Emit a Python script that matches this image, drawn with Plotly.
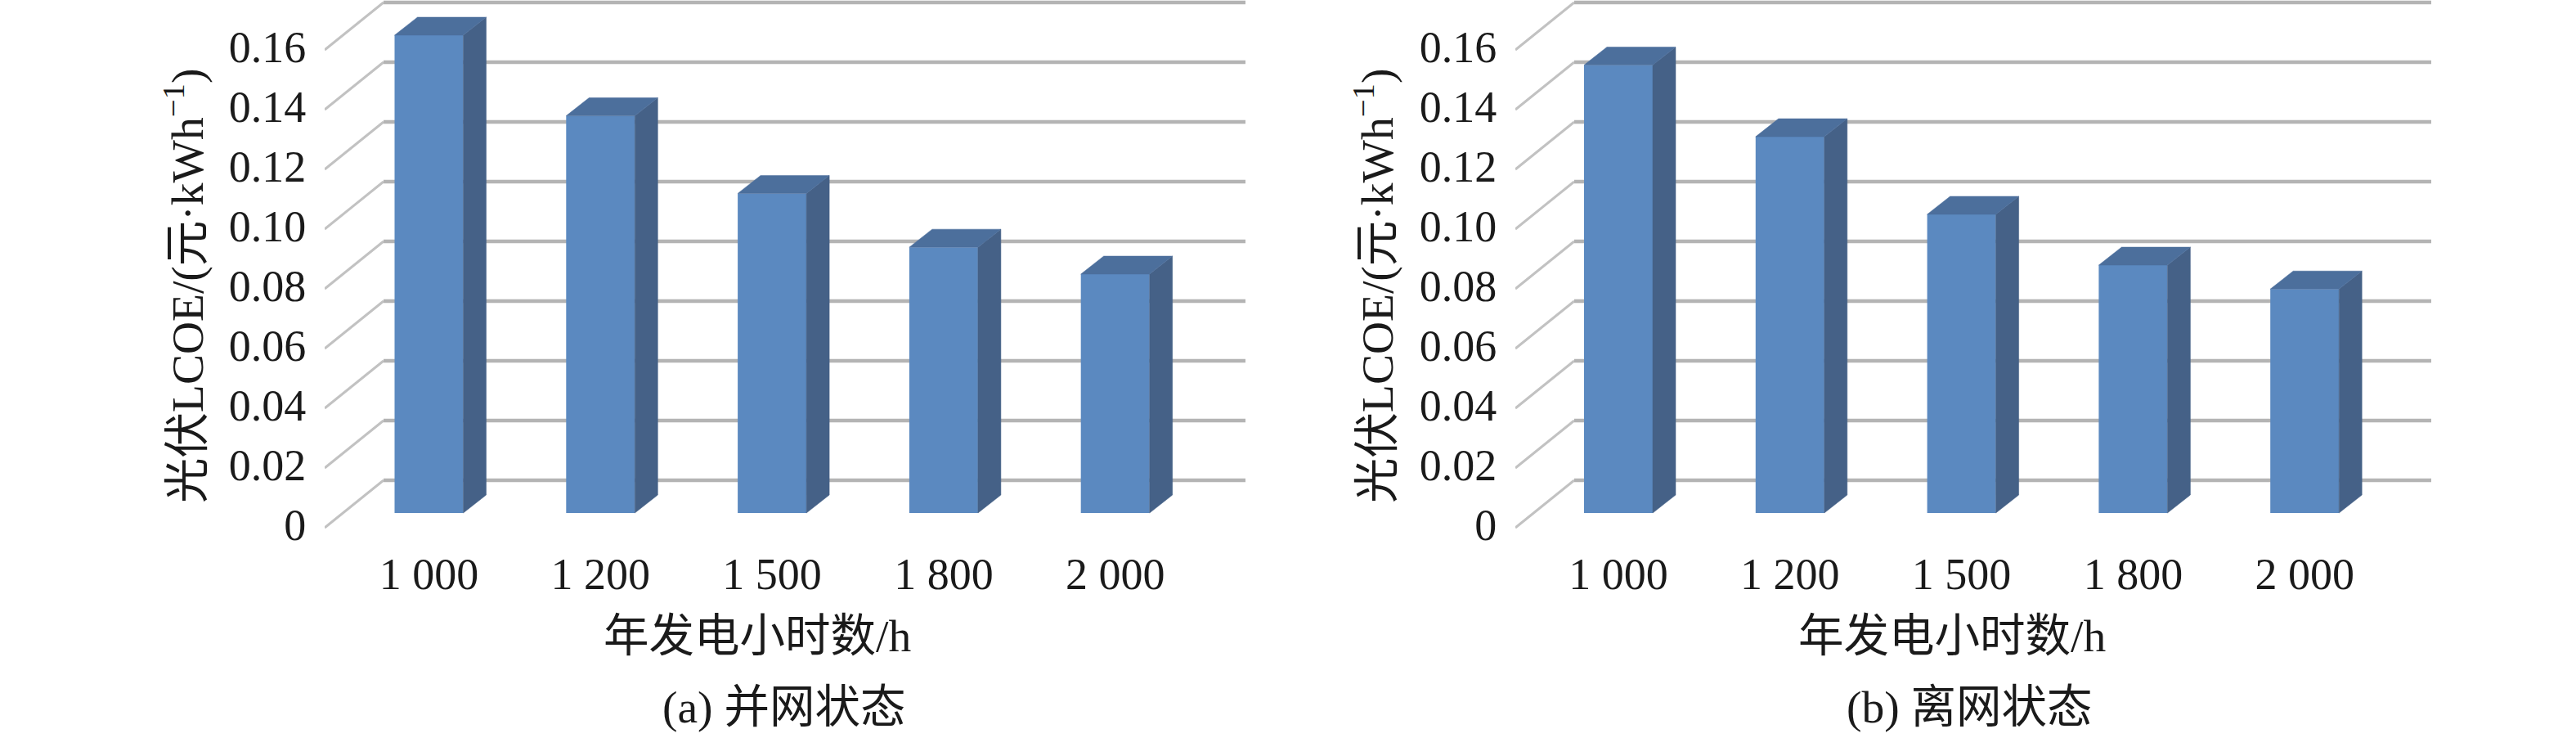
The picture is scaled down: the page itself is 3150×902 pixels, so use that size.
import plotly.graph_objects as go

categories = ["1 000", "1 200", "1 500", "1 800", "2 000"]
lcoe_grid = [0.160, 0.133, 0.107, 0.089, 0.080]
lcoe_off = [0.150, 0.126, 0.100, 0.083, 0.075]
tick_values = [0, 0.02, 0.04, 0.06, 0.08, 0.10, 0.12, 0.14, 0.16]
tick_labels = ["0", "0.02", "0.04", "0.06", "0.08", "0.10", "0.12", "0.14", "0.16"]
captions = ["(a) 并网状态", "(b) 离网状态"]
y_title = "光伏LCOE/(元·kWh<sup>−1</sup>)"
x_title = "年发电小时数/h"

W, H = 3150, 902
FONT = "Liberation Serif, Noto Sans CJK SC"
INK = "#1a1a1a"
FRONT, SIDE, TOP = "#5b89c0", "#456187", "#4c6f9c"
GRID, DIAG = "#b4b4b4", "#c2c2c2"

# pixel scales of the drawing
PX_X = 209.8            # px per category
PX_Y = 3650.0           # px per LCOE unit
BASE_Y = 627.0          # px of value 0 on the bar front
BAR_W = 84 / PX_X       # front face width
DEPTH_X = 28 / PX_X     # oblique depth of bars
DEPTH_Y = 22 / PX_Y
TICK_SHIFT = -18 / PX_Y  # wall front edge is below the bar base
LABEL_LIFT = 3.5 / PX_Y  # tick labels sit slightly above the wall edge
WALL_DX = 72 / PX_X
WALL_DY = 58 / PX_Y

panels = [
    dict(values=lcoe_grid, first_x=524.5, caption=captions[0], left=397, right=1523,
         wall=("x", "y"), bars=("x3", "y3"), ytitle_x=225, xtitle_x=926, cap_x=958),
    dict(values=lcoe_off, first_x=1979, caption=captions[1], left=1853, right=2973,
         wall=("x2", "y2"), bars=("x4", "y4"), ytitle_x=1680, xtitle_x=2387, cap_x=2408),
]


def axis_key(name, letter):
    return letter + "axis" + name[1:]


fig = go.Figure()
layout = {}
for p in panels:
    xa, ya = p["wall"]
    xb, yb = p["bars"]
    x0 = (p["left"] - p["first_x"]) / PX_X
    x1 = (p["right"] - p["first_x"]) / PX_X
    top_px, bot_px = 0, 652
    y0 = (BASE_Y - bot_px) / PX_Y
    y1 = (BASE_Y - top_px) / PX_Y
    back_x = x0 + WALL_DX
    x_dom = [p["left"] / W, p["right"] / W]
    y_dom = [1 - bot_px / H, 1 - top_px / H]

    # walls sit on the lower axis pair, so the bars always cover them
    for t in tick_values:
        yf = t + TICK_SHIFT
        fig.add_trace(go.Scatter(x=[x0, back_x], y=[yf, yf + WALL_DY],
                                 mode="lines", line=dict(color=DIAG, width=3),
                                 hoverinfo="skip", showlegend=False, xaxis=xa, yaxis=ya))
        fig.add_trace(go.Scatter(x=[back_x, x1], y=[yf + WALL_DY, yf + WALL_DY],
                                 mode="lines", line=dict(color=GRID, width=4.5),
                                 hoverinfo="skip", showlegend=False, xaxis=xa, yaxis=ya))

    idx = list(range(len(categories)))
    fig.add_trace(go.Bar(x=idx, y=p["values"], width=BAR_W,
                         marker=dict(color=FRONT, line=dict(width=0)),
                         showlegend=False, xaxis=xb, yaxis=yb))
    for i, v in zip(idx, p["values"]):
        r = i + BAR_W / 2
        l = i - BAR_W / 2
        fig.add_trace(go.Scatter(x=[r, r + DEPTH_X, r + DEPTH_X, r, r],
                                 y=[0, DEPTH_Y, v + DEPTH_Y, v, 0],
                                 mode="lines", fill="toself", fillcolor=SIDE,
                                 line=dict(color=SIDE, width=0.5),
                                 hoverinfo="skip", showlegend=False, xaxis=xb, yaxis=yb))
        fig.add_trace(go.Scatter(x=[l, r, r + DEPTH_X, l + DEPTH_X, l],
                                 y=[v, v, v + DEPTH_Y, v + DEPTH_Y, v],
                                 mode="lines", fill="toself", fillcolor=TOP,
                                 line=dict(color=TOP, width=0.5),
                                 hoverinfo="skip", showlegend=False, xaxis=xb, yaxis=yb))

    tick_font = dict(family=FONT, size=54, color=INK)
    layout[axis_key(xa, "x")] = dict(
        domain=x_dom, range=[x0, x1], anchor=ya, automargin=False,
        tickmode="array", tickvals=idx, ticktext=categories, tickfont=tick_font,
        showgrid=False, zeroline=False, showline=False, ticks="outside", ticklen=2,
        tickcolor="rgba(0,0,0,0)",
    )
    layout[axis_key(ya, "y")] = dict(
        domain=y_dom, range=[y0, y1], anchor=xa, automargin=False,
        tickmode="array", tickvals=[t + TICK_SHIFT + LABEL_LIFT for t in tick_values], ticktext=tick_labels,
        tickfont=tick_font, showgrid=False, zeroline=False, showline=False,
        ticks="outside", ticklen=11, tickcolor="rgba(0,0,0,0)",
    )
    layout[axis_key(xb, "x")] = dict(domain=x_dom, range=[x0, x1], anchor=yb, overlaying=xa,
                                     visible=False, automargin=False)
    layout[axis_key(yb, "y")] = dict(domain=y_dom, range=[y0, y1], anchor=xb, overlaying=ya,
                                     visible=False, automargin=False)

    title_font = dict(family=FONT, size=55.5, color=INK)
    fig.add_annotation(text=x_title, xref="paper", yref="paper", x=p["xtitle_x"] / W, y=1 - 777 / H,
                       xanchor="center", yanchor="middle", showarrow=False, font=title_font)
    fig.add_annotation(text=p["caption"], xref="paper", yref="paper", x=p["cap_x"] / W, y=1 - 864 / H,
                       xanchor="center", yanchor="middle", showarrow=False, font=title_font)
    fig.add_annotation(text=y_title, xref="paper", yref="paper", x=p["ytitle_x"] / W, y=1 - 350 / H,
                       xanchor="center", yanchor="middle", textangle=-90, showarrow=False, font=title_font)

fig.update_layout(width=W, height=H, margin=dict(l=0, r=0, t=0, b=0), barmode="overlay",
                  paper_bgcolor="white", plot_bgcolor="rgba(0,0,0,0)", showlegend=False, **layout)
fig.write_html("out.html", config={"displayModeBar": False},
               post_script="document.body.style.margin='0';document.body.style.overflow='hidden';")
